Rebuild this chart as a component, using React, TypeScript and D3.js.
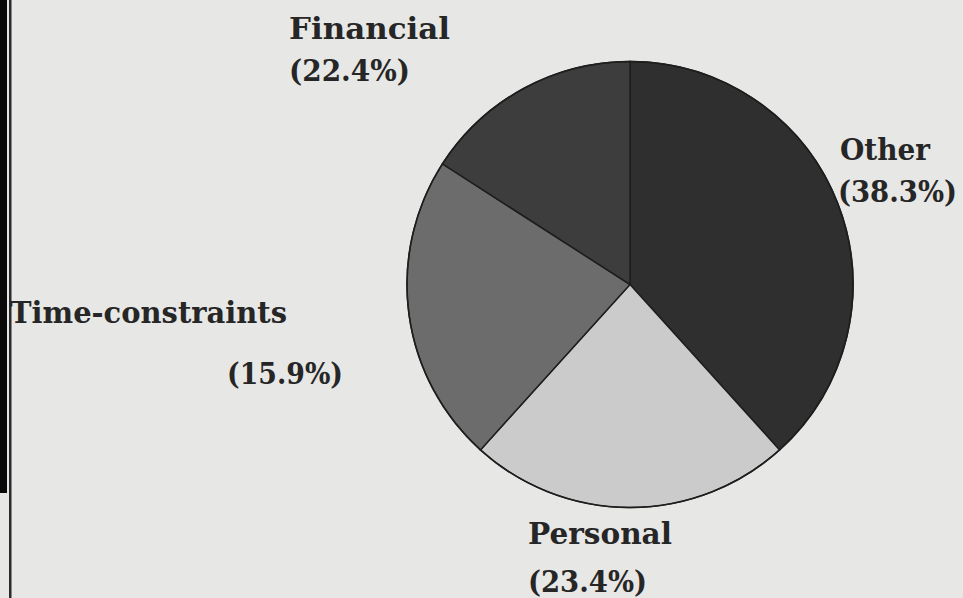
import React, { useMemo } from "react";
import * as d3 from "d3";

// Slice order clockwise from 12 o'clock, shares as drawn in the picture
const sliceNames = ["Other", "Personal", "Time-constraints", "Financial"];
const sliceShares = [38.3, 23.4, 22.4, 15.9];
const sliceFills = ["#2f2f2f", "#cbcbcb", "#6c6c6c", "#3d3d3d"];

// Printed labels
const labelNames = ["Financial", "Other", "Time-constraints", "Personal"];
const labelPercents = ["(22.4%)", "(38.3%)", "(15.9%)", "(23.4%)"];

const W = 963;
const H = 598;
const CX = 630;
const CY = 284.5;
const R = 223;

// label layout: [nameX, nameY, nameW, pctX, pctY, pctW]
const labelLayout: number[][] = [
  [289, 39, 161, 289, 81, 121],
  [840, 160, 90, 838, 202, 119],
  [10, 323, 277, 227, 384, 116],
  [528, 544, 144, 528, 592, 119],
];

export default function App() {
  const arcs = useMemo(() => {
    const pie = d3
      .pie<number>()
      .sort(null)
      .value((d) => d)
      .startAngle(0)
      .endAngle(2 * Math.PI);
    return pie(sliceShares);
  }, []);
  const arcGen = d3.arc<d3.PieArcDatum<number>>().innerRadius(0).outerRadius(R);

  const fontStyle: React.CSSProperties = {
    fontFamily: "'DejaVu Serif', serif",
    fontWeight: 700,
    fontSize: 29,
  };

  return (
    <svg
      width={W}
      height={H}
      style={{ position: "fixed", left: 0, top: 0, background: "#e7e7e5" }}
    >
      <rect x={0} y={0} width={W} height={H} fill="#e7e7e5" />
      {/* left binding edge */}
      <rect x={0} y={0} width={7} height={493} fill="#0a0a0a" />
      <rect x={9} y={0} width={2.5} height={H} fill="#2a2a2a" />

      <g transform={`translate(${CX},${CY})`}>
        {arcs.map((a, i) => (
          <path
            key={sliceNames[i]}
            d={arcGen(a) || ""}
            fill={sliceFills[i]}
            stroke="#1e1e1e"
            strokeWidth={1.5}
          />
        ))}
        <circle r={R} fill="none" stroke="#1e1e1e" strokeWidth={1.5} />
      </g>

      <g fill="#262626" style={fontStyle}>
        {labelNames.map((n, i) => {
          const [nx, ny, nw, px, py, pw] = labelLayout[i];
          return (
            <g key={n}>
              <text x={nx} y={ny} textLength={nw} lengthAdjust="spacingAndGlyphs">
                {n}
              </text>
              <text x={px} y={py} textLength={pw} lengthAdjust="spacingAndGlyphs">
                {labelPercents[i]}
              </text>
            </g>
          );
        })}
      </g>
    </svg>
  );
}
